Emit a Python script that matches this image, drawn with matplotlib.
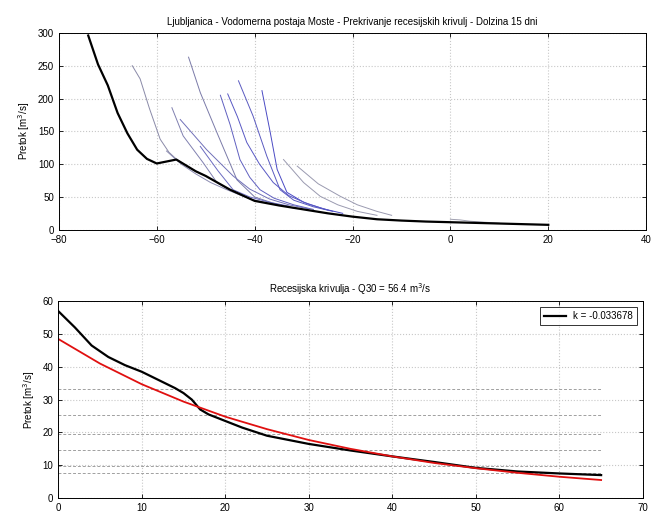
import numpy as np
import matplotlib
matplotlib.use('Agg')
import matplotlib.pyplot as plt

plt.rcParams['font.family'] = ['Liberation Sans', 'DejaVu Sans']

# glavna (master) recesijska krivulja
master_x = [-74, -72, -70, -68, -66, -64, -62, -60, -58, -56, -54, -52, -50, -45, -40,
            -35, -30, -25, -20, -15, -10, -5, 0, 5, 10, 15, 20]
master_y = [296, 252, 220, 178, 147, 122, 108, 101, 104, 107, 98, 89, 82, 61, 44,
            37, 31, 25, 20, 16, 14, 12.5, 11.5, 10.5, 9.5, 8.5, 7.5]

# posamezne recesije (x, y)
rec_curves = [
    ([-65, -63.4, -61.5, -59.3, -57.5, -55.9, -53, -50], [250, 230, 185, 138, 118, 107, 93, 82]),
    ([-53.5, -51.1, -47.7, -43.6, -40, -36, -32], [263, 209, 148, 76, 50, 40, 33]),
    ([-43.3, -40.3, -37.5, -34.8, -32, -28, -24], [227, 173, 112, 61, 45, 35, 28]),
    ([-38.5, -36.8, -35.4, -33.4, -30, -26, -22], [212, 148, 92, 57, 42, 32, 25]),
    ([-47, -45, -43, -41, -38.9, -36, -32, -28], [205, 160, 107, 80, 61, 48, 38, 31]),
    ([-45.5, -43.5, -41.6, -39, -36.2, -33, -29, -25], [207, 172, 133, 100, 72, 52, 39, 30]),
    ([-56.9, -54.6, -50.5, -47.7, -45, -41, -37], [186, 143, 102, 72, 60, 47, 40]),
    ([-55.2, -49.8, -44.4, -41, -37, -33, -29], [168, 122, 82, 62, 47, 38, 32]),
    ([-51.1, -47.5, -44.4, -41, -37, -33], [127, 90, 61, 50, 42, 36]),
    ([-34.1, -30, -26.6, -23, -19, -15], [107, 72, 51, 38, 28, 22]),
    ([-31.3, -27, -22.5, -19, -15, -12], [97, 70, 51, 38, 28, 22]),
    ([-58, -55, -52, -49, -46, -42], [120, 100, 85, 72, 62, 50]),
    ([0, 2, 4, 6, 8, 10], [16, 15, 13, 12, 11, 10]),
]
rec_colors = ['#8a8aa8', '#7a7aa8', '#5a5ac0', '#4a4ac4', '#6060c0', '#5858c4', '#8080b0',
              '#7070b8', '#6a6ac0', '#9a9ab0', '#9a9ab0', '#8a8ab0', '#a0a0b0']

# spodnji graf
t = [0, 2, 4, 6, 8, 10, 12, 14, 15, 16, 17, 18, 20, 22, 25, 30, 35, 40, 45, 50, 55, 60, 65]
q_obs = [57, 52, 46.5, 43, 40.5, 38.5, 36, 33.5, 32, 30, 27, 25.5, 23.5, 21.5, 19, 16.5,
         14.5, 12.7, 11, 9.2, 8.1, 7.5, 7]
t_fit = [0, 5, 10, 15, 20, 25, 30, 35, 40, 45, 50, 55, 60, 65]
q_fit = [48.5, 41, 34.7, 29.4, 24.8, 21, 17.7, 15, 12.7, 10.7, 9.1, 7.7, 6.5, 5.5]
ref_levels = [33.2, 25.4, 19.5, 14.5, 9.9, 7.6]

fig = plt.figure(figsize=(6.54, 5.14), dpi=100)
fs = 7

# --- zgornji graf ---
ax1 = fig.add_axes([0.090, 0.553, 0.898, 0.383])
for (cx, cy), c in zip(rec_curves, rec_colors):
    ax1.plot(cx, cy, color=c, lw=0.7)
ax1.plot(master_x, master_y, color='k', lw=1.6)
ax1.set_xlim(-80, 40)
ax1.set_ylim(0, 300)
ax1.set_xticks(np.arange(-80, 41, 20))
ax1.set_yticks(np.arange(0, 301, 50))
ax1.grid(True, color='#c8c8c8', linestyle=':', lw=0.8)
ax1.set_ylabel('Pretok [m$^3$/s]', fontsize=fs)
ax1.set_title('Ljubljanica - Vodomerna postaja Moste - Prekrivanje recesijskih krivulj - Dolzina 15 dni',
              fontsize=fs, pad=6)

# --- spodnji graf ---
ax2 = fig.add_axes([0.089, 0.031, 0.894, 0.383])
for lv in ref_levels:
    ax2.plot([0, 65], [lv, lv], color='#a0a0a0', lw=0.7, linestyle='--', dashes=(3, 2))
ax2.plot(t, q_obs, color='k', lw=1.6, label='k = -0.033678')
ax2.plot(t_fit, q_fit, color='#e01010', lw=1.3)
ax2.set_xlim(0, 70)
ax2.set_ylim(0, 60)
ax2.set_xticks(np.arange(0, 71, 10))
ax2.set_yticks(np.arange(0, 61, 10))
ax2.grid(True, color='#c8c8c8', linestyle=':', lw=0.8)
ax2.set_ylabel('Pretok [m$^3$/s]', fontsize=fs)
ax2.set_title('Recesijska krivulja - Q30 = 56.4 m$^3$/s', fontsize=fs, pad=6)
leg = ax2.legend(loc='upper right', fontsize=fs, fancybox=False, edgecolor='k',
                 borderaxespad=0.6, handlelength=2.2)
leg.get_frame().set_linewidth(0.7)

for ax in (ax1, ax2):
    ax.tick_params(direction='in', top=True, right=True, labelsize=fs, length=3, width=0.6)
    for s in ax.spines.values():
        s.set_linewidth(0.7)

fig.savefig('out.png', dpi=100)
